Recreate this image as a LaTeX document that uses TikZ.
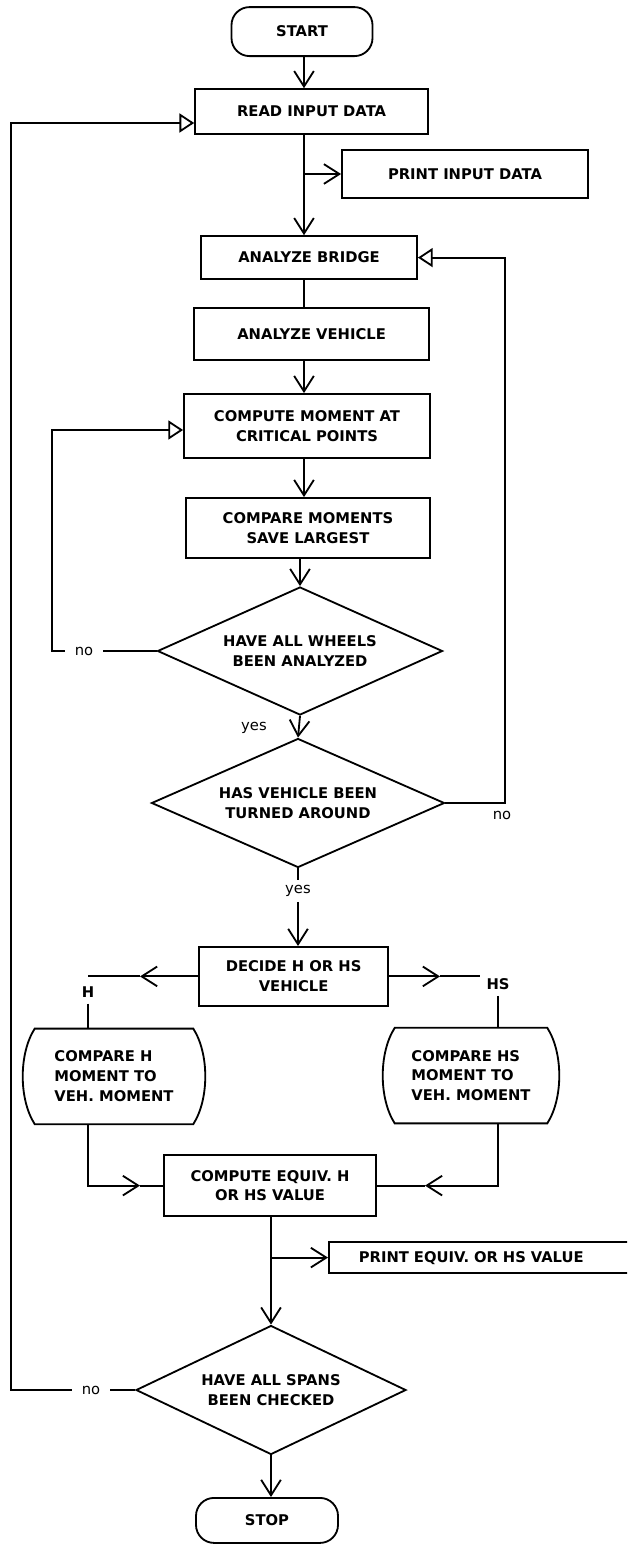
\documentclass[tikz,border=0pt]{standalone}
\usepackage{fontspec}
\setmainfont{DejaVu Sans}
\usepackage{tikz}
\usetikzlibrary{arrows.meta,calc,shapes.geometric}
\newcommand{\bx}{\bfseries\fontsize{10.5}{14.2}\selectfont}
\newcommand{\lb}{\fontsize{10.5}{12}\selectfont}
\tikzset{
  ln/.style={line width=1.3pt},
  box/.style={draw,ln,font=\bx,align=center,inner sep=2pt},
  term/.style={box,rounded corners=0.45cm},
  dia/.style={diamond,aspect=2.2,draw,ln,font=\bx,align=center,inner sep=0pt},
  cmpbox/.style={font=\bx,align=left,inner sep=0pt,minimum height=2.375cm},
  gap/.style={font=\lb,inner xsep=0.25cm,inner ysep=0.12cm},
  hl/.style={font=\bx,inner sep=0.15cm},
  arr/.style={-{Straight Barb[length=11pt,width=14pt]},ln},
  oarr/.style={-{Triangle[open,length=10.5pt,width=13.5pt]},ln},
}
\newcommand{\barrel}[1]{\draw[ln] (#1.north west) -- (#1.north east) .. controls +(0.4,-0.625) and +(0.4,0.625) .. (#1.south east) -- (#1.south west) .. controls +(-0.4,0.625) and +(-0.4,-0.625) .. (#1.north west) -- cycle;}
\begin{document}
\begin{tikzpicture}
\useasboundingbox[fill=white] (0,0) rectangle (15.675,-38.625);
\clip (0,0) rectangle (15.675,-38.625);
\coordinate (sp) at (7.6,0);
\node[term,minimum width=3.525cm,minimum height=1.225cm] (start) at (7.55,-0.79) {START};
\node[box,minimum width=5.825cm,minimum height=1.125cm] (read) at (7.79,-2.79) {READ INPUT DATA};
\node[box,minimum width=6.15cm,minimum height=1.2cm] (prin) at (11.625,-4.35) {PRINT INPUT DATA};
\node[box,minimum width=5.4cm,minimum height=1.075cm] (brg) at (7.725,-6.44) {ANALYZE BRIDGE};
\node[box,minimum width=5.875cm,minimum height=1.3cm] (veh) at (7.79,-8.35) {ANALYZE VEHICLE};
\node[box,minimum width=6.15cm,minimum height=1.6cm] (cmom) at (7.675,-10.65) {COMPUTE MOMENT AT\\CRITICAL POINTS};
\node[box,minimum width=6.1cm,minimum height=1.5cm] (cmps) at (7.7,-13.2) {COMPARE MOMENTS\\SAVE LARGEST};
\node[dia,minimum width=7.125cm,minimum height=3.2cm] (whl) at (7.5,-16.275) {HAVE ALL WHEELS\\BEEN ANALYZED};
\node[dia,minimum width=7.325cm,minimum height=3.225cm] (turn) at (7.45,-20.075) {HAS VEHICLE BEEN\\TURNED AROUND};
\node[box,minimum width=4.725cm,minimum height=1.475cm] (dec) at (7.34,-24.41) {DECIDE H OR HS\\VEHICLE};
\node[cmpbox,minimum width=3.95cm] (cmph) at (2.85,-26.91) {COMPARE H\\MOMENT TO\\VEH. MOMENT};
\node[cmpbox,minimum width=3.8cm] (cmphs) at (11.775,-26.89) {COMPARE HS\\MOMENT TO\\VEH. MOMENT};
\node[box,minimum width=5.3cm,minimum height=1.525cm] (eqv) at (6.75,-29.64) {COMPUTE EQUIV. H\\OR HS VALUE};
\node[box,anchor=west,minimum height=0.775cm,text width=6.5cm,align=left,inner xsep=0.75cm,inner ysep=0pt] (peq) at (8.2,-31.44) {PRINT EQUIV. OR HS VALUE};
\node[dia,minimum width=6.75cm,minimum height=3.225cm] (span) at (6.775,-34.75) {HAVE ALL SPANS\\BEEN CHECKED};
\node[term,minimum width=3.55cm,minimum height=1.125cm] (stop) at (6.675,-38.01) {STOP};
\barrel{cmph}
\barrel{cmphs}
\node[gap] (no1) at (2.1,-16.275) {no};
\node[font=\lb] (yes1) at (6.35,-18.2) {yes};
\node[font=\lb] (no2) at (12.55,-20.375) {no};
\node[gap,inner xsep=0pt] (yes2) at (7.45,-22.275) {yes};
\node[hl] (lh) at (2.2,-24.8) {H};
\node[hl] (lhs) at (12.45,-24.6) {HS};
\node[gap] (no3) at (2.275,-34.75) {no};
\coordinate (lt) at (0.275,-3.075);
\coordinate (lm) at (1.3,-10.75);
\coordinate (rb) at (12.625,-6.44);
\coordinate (dl) at (3.5,-24.41);
\coordinate (dr) at (11.0,-24.41);
\coordinate (el) at (3.5,-29.64);
\coordinate (er) at (10.625,-29.64);
\draw[arr] (sp |- start.south) -- (sp |- read.north);
\draw[arr] (sp |- read.south) -- (sp |- brg.north);
\draw[arr] (sp |- prin.west) -- (prin.west);
\draw[ln] (sp |- brg.south) -- (sp |- veh.north);
\draw[arr] (sp |- veh.south) -- (sp |- cmom.north);
\draw[arr] (sp |- cmom.south) -- (sp |- cmps.north);
\draw[arr] (whl.north |- cmps.south) -- (whl.north);
\draw[arr] (whl.south) -- (turn.north);
\draw[ln] (turn.south) -- (yes2.north);
\draw[arr] (yes2.south) -- (yes2.south |- dec.north);
\draw[arr] (dec.west) -- (dl);
\draw[ln] (dl) -- (lh |- dec.west);
\draw[ln] (lh.south) -- (lh.south |- cmph.north);
\draw[arr] (dec.east) -- (dr);
\draw[ln] (dr) -- (lhs.west |- dec.east);
\draw[ln] (lhs.south) -- (lhs.south |- cmphs.north);
\draw[arr] (lh |- cmph.south) |- (el);
\draw[ln] (el) -- (eqv.west);
\draw[arr] (lhs |- cmphs.south) |- (er);
\draw[ln] (er) -- (eqv.east);
\draw[arr] (span.north |- eqv.south) -- (span.north);
\draw[arr] (span.north |- peq.west) -- (peq.west);
\draw[arr] (span.south) -- (span.south |- stop.north);
\draw[ln] (whl.west) -- (no1.east);
\draw[oarr] (no1.west) -| (lm) -- (cmom.west |- lm);
\draw[oarr] (turn.east) -| (rb) -- (brg.east);
\draw[ln] (span.west) -- (no3.east);
\draw[oarr] (no3.west) -| (lt) -- (read.west |- lt);
\end{tikzpicture}
\end{document}
